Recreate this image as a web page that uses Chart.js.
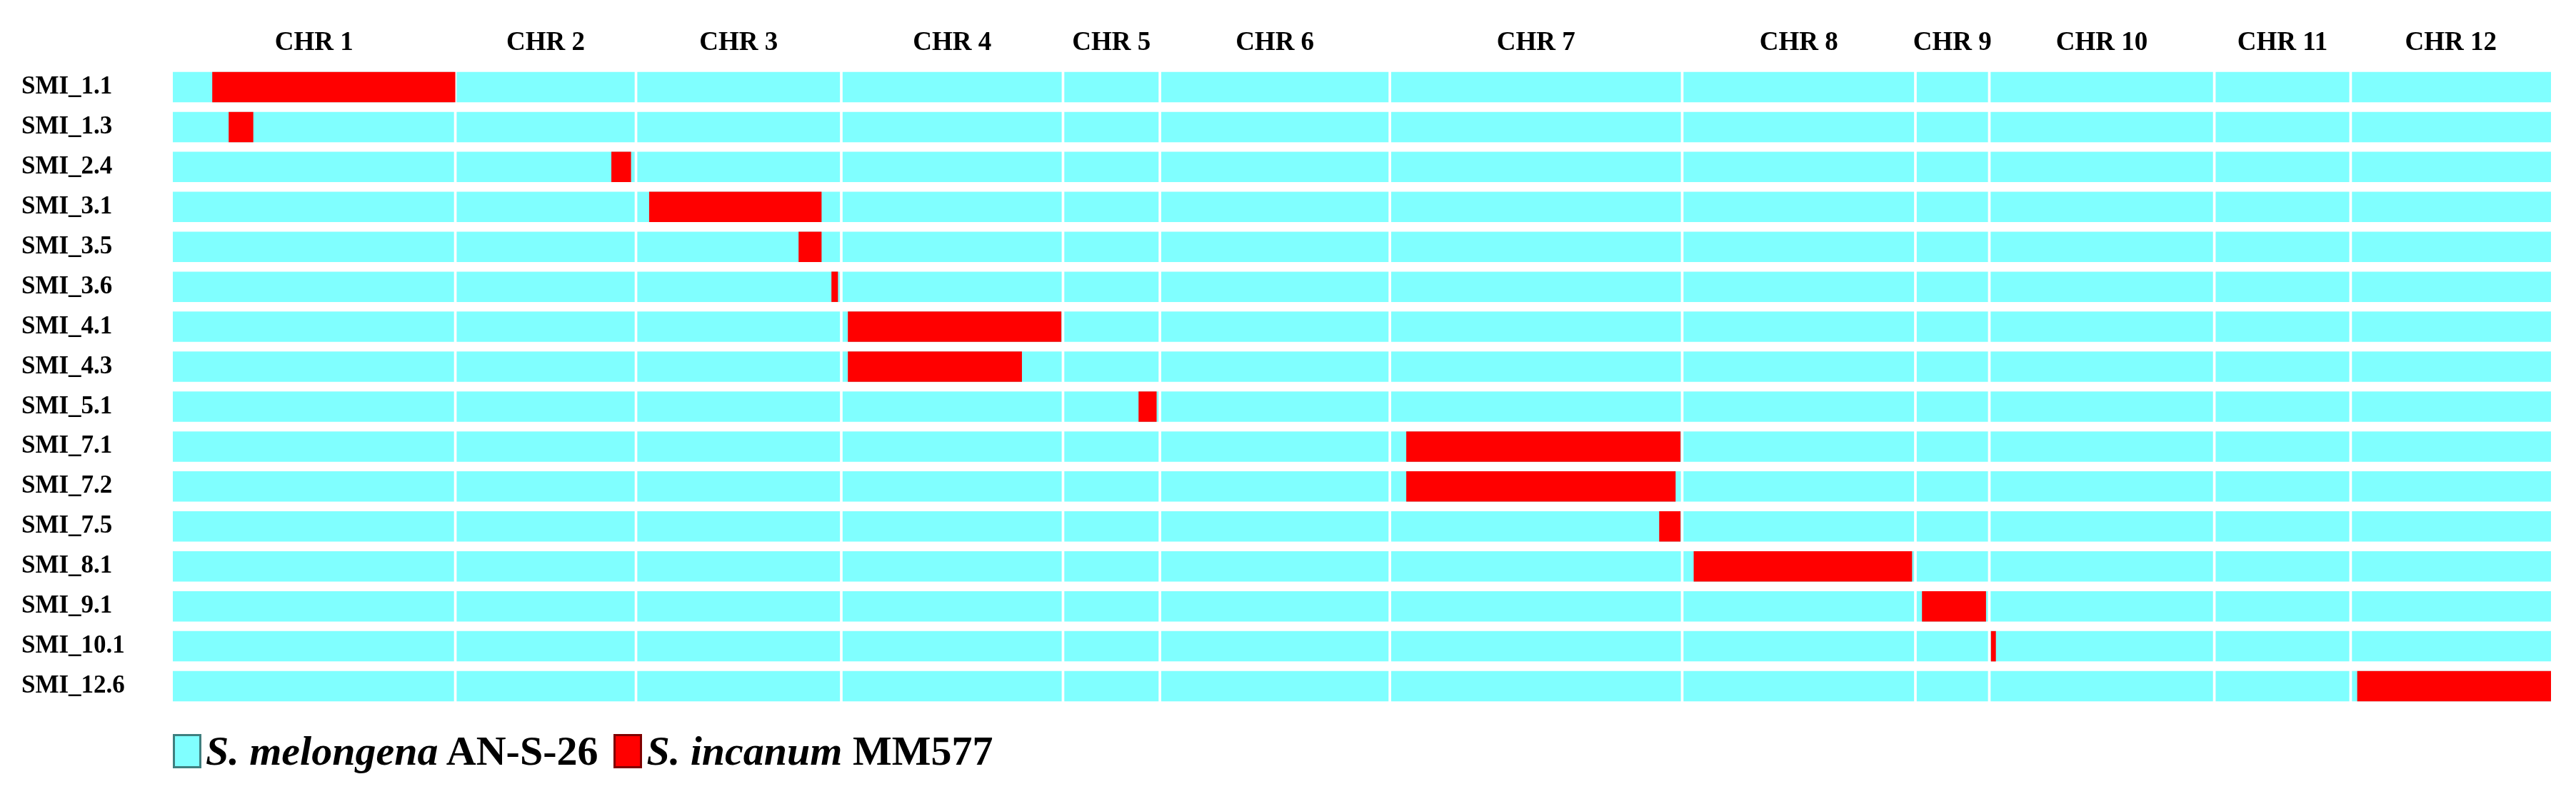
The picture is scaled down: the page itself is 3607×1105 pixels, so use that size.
<!DOCTYPE html>
<html>
<head>
<meta charset="utf-8">
<script src="https://cdn.jsdelivr.net/npm/chart.js@4.4.0/dist/chart.umd.min.js"></script>
<style>
  body { margin: 0; background: #fff; font-family: "Liberation Serif", serif; }
  #wrap { position: relative; width: 3607px; height: 1010px; }
  #legend { position: absolute; left: 242px; top: 1018px; font-size: 58px; font-weight: bold; display: flex; align-items: center; }
  .box { display: inline-block; width: 40px; height: 48px; margin-right: 6px; border: 3px solid #3a6a6a; box-sizing: border-box; }
</style>
</head>
<body>
<div id="wrap"><canvas id="chart"></canvas></div>
<div id="legend">
  <span class="box" style="background:#80ffff;border-color:#3f7f7f"></span><span><i>S. melongena</i> AN-S-26</span>
  <span class="box" style="background:#ff0000;border-color:#7f0000;margin-left:22px"></span><span><i>S. incanum</i> MM577</span>
</div>
<script>
// chromosome lengths (relative units)
const chromosomes = ['CHR 1', 'CHR 2', 'CHR 3', 'CHR 4', 'CHR 5', 'CHR 6', 'CHR 7', 'CHR 8', 'CHR 9', 'CHR 10', 'CHR 11', 'CHR 12']
const chrLengths = [172, 110, 125, 135, 59, 140, 178, 142, 45, 137, 83, 122]

// introgression lines and their S. incanum segment
const lines = ['SMI_1.1', 'SMI_1.3', 'SMI_2.4', 'SMI_3.1', 'SMI_3.5', 'SMI_3.6', 'SMI_4.1', 'SMI_4.3',
               'SMI_5.1', 'SMI_7.1', 'SMI_7.2', 'SMI_7.5', 'SMI_8.1', 'SMI_9.1', 'SMI_10.1', 'SMI_12.6']
const introChr = [1, 1, 2, 3, 3, 3, 4, 4, 5, 7, 7, 7, 8, 9, 10, 12]
const introStart = [24, 34, 95, 8, 99, 119, 4, 4, 46, 10, 10, 164, 7, 4, 1, 4]
const introEnd = [172, 49, 107, 113, 113, 123, 134, 110, 57, 177, 174, 177, 140, 43, 4, 122]

const cum = [0]
chrLengths.forEach((l, i) => cum.push(cum[i] + l))
const total = cum[cum.length - 1]
const gap = 0.8

const datasets = chromosomes.map((c, i) => ({
    label: c,
    data: lines.map(() => [cum[i] + (i ? gap : 0), cum[i + 1] - (i < chromosomes.length - 1 ? gap : 0)]),
    backgroundColor: '#80ffff',
    order: 1
}))
datasets.push({
    label: 'S. incanum MM577',
    data: lines.map((l, i) => [cum[introChr[i] - 1] + introStart[i], cum[introChr[i] - 1] + introEnd[i]]),
    backgroundColor: '#ff0000',
    order: 0
})

const font = { family: 'Liberation Serif', weight: 'bold', size: 35 }

new Chart(document.getElementById('chart'), {
    type: 'bar',
    data: { labels: lines, datasets: datasets },
    options: {
        indexAxis: 'y',
        responsive: true,
        maintainAspectRatio: false,
        animation: false,
        barPercentage: 0.76,
        categoryPercentage: 1,
        layout: { padding: { left: 30, right: 35, top: 0, bottom: 9 } },
        scales: {
            y: {
                stacked: true,
                grid: { display: false },
                border: { display: false },
                ticks: { color: '#000', font: font, crossAlign: 'far', padding: 0 },
                afterFit: (s) => { s.width = 212 }
            },
            x: {
                min: 0, max: total,
                display: false
            },
            x2: {
                type: 'linear',
                position: 'top',
                min: 0, max: total,
                grid: { display: false },
                border: { display: false },
                afterBuildTicks: (s) => { s.ticks = chromosomes.map((c, i) => ({ value: (cum[i] + cum[i + 1]) / 2 })) },
                ticks: {
                    color: '#000', font: { family: 'Liberation Serif', weight: 'bold', size: 37 },
                    autoSkip: false, maxRotation: 0,
                    callback: (v, i) => chromosomes[i]
                },
                afterFit: (s) => { s.height = 94 }
            }
        },
        plugins: {
            legend: { display: false },
            tooltip: { enabled: false }
        }
    }
})
</script>
</body>
</html>
